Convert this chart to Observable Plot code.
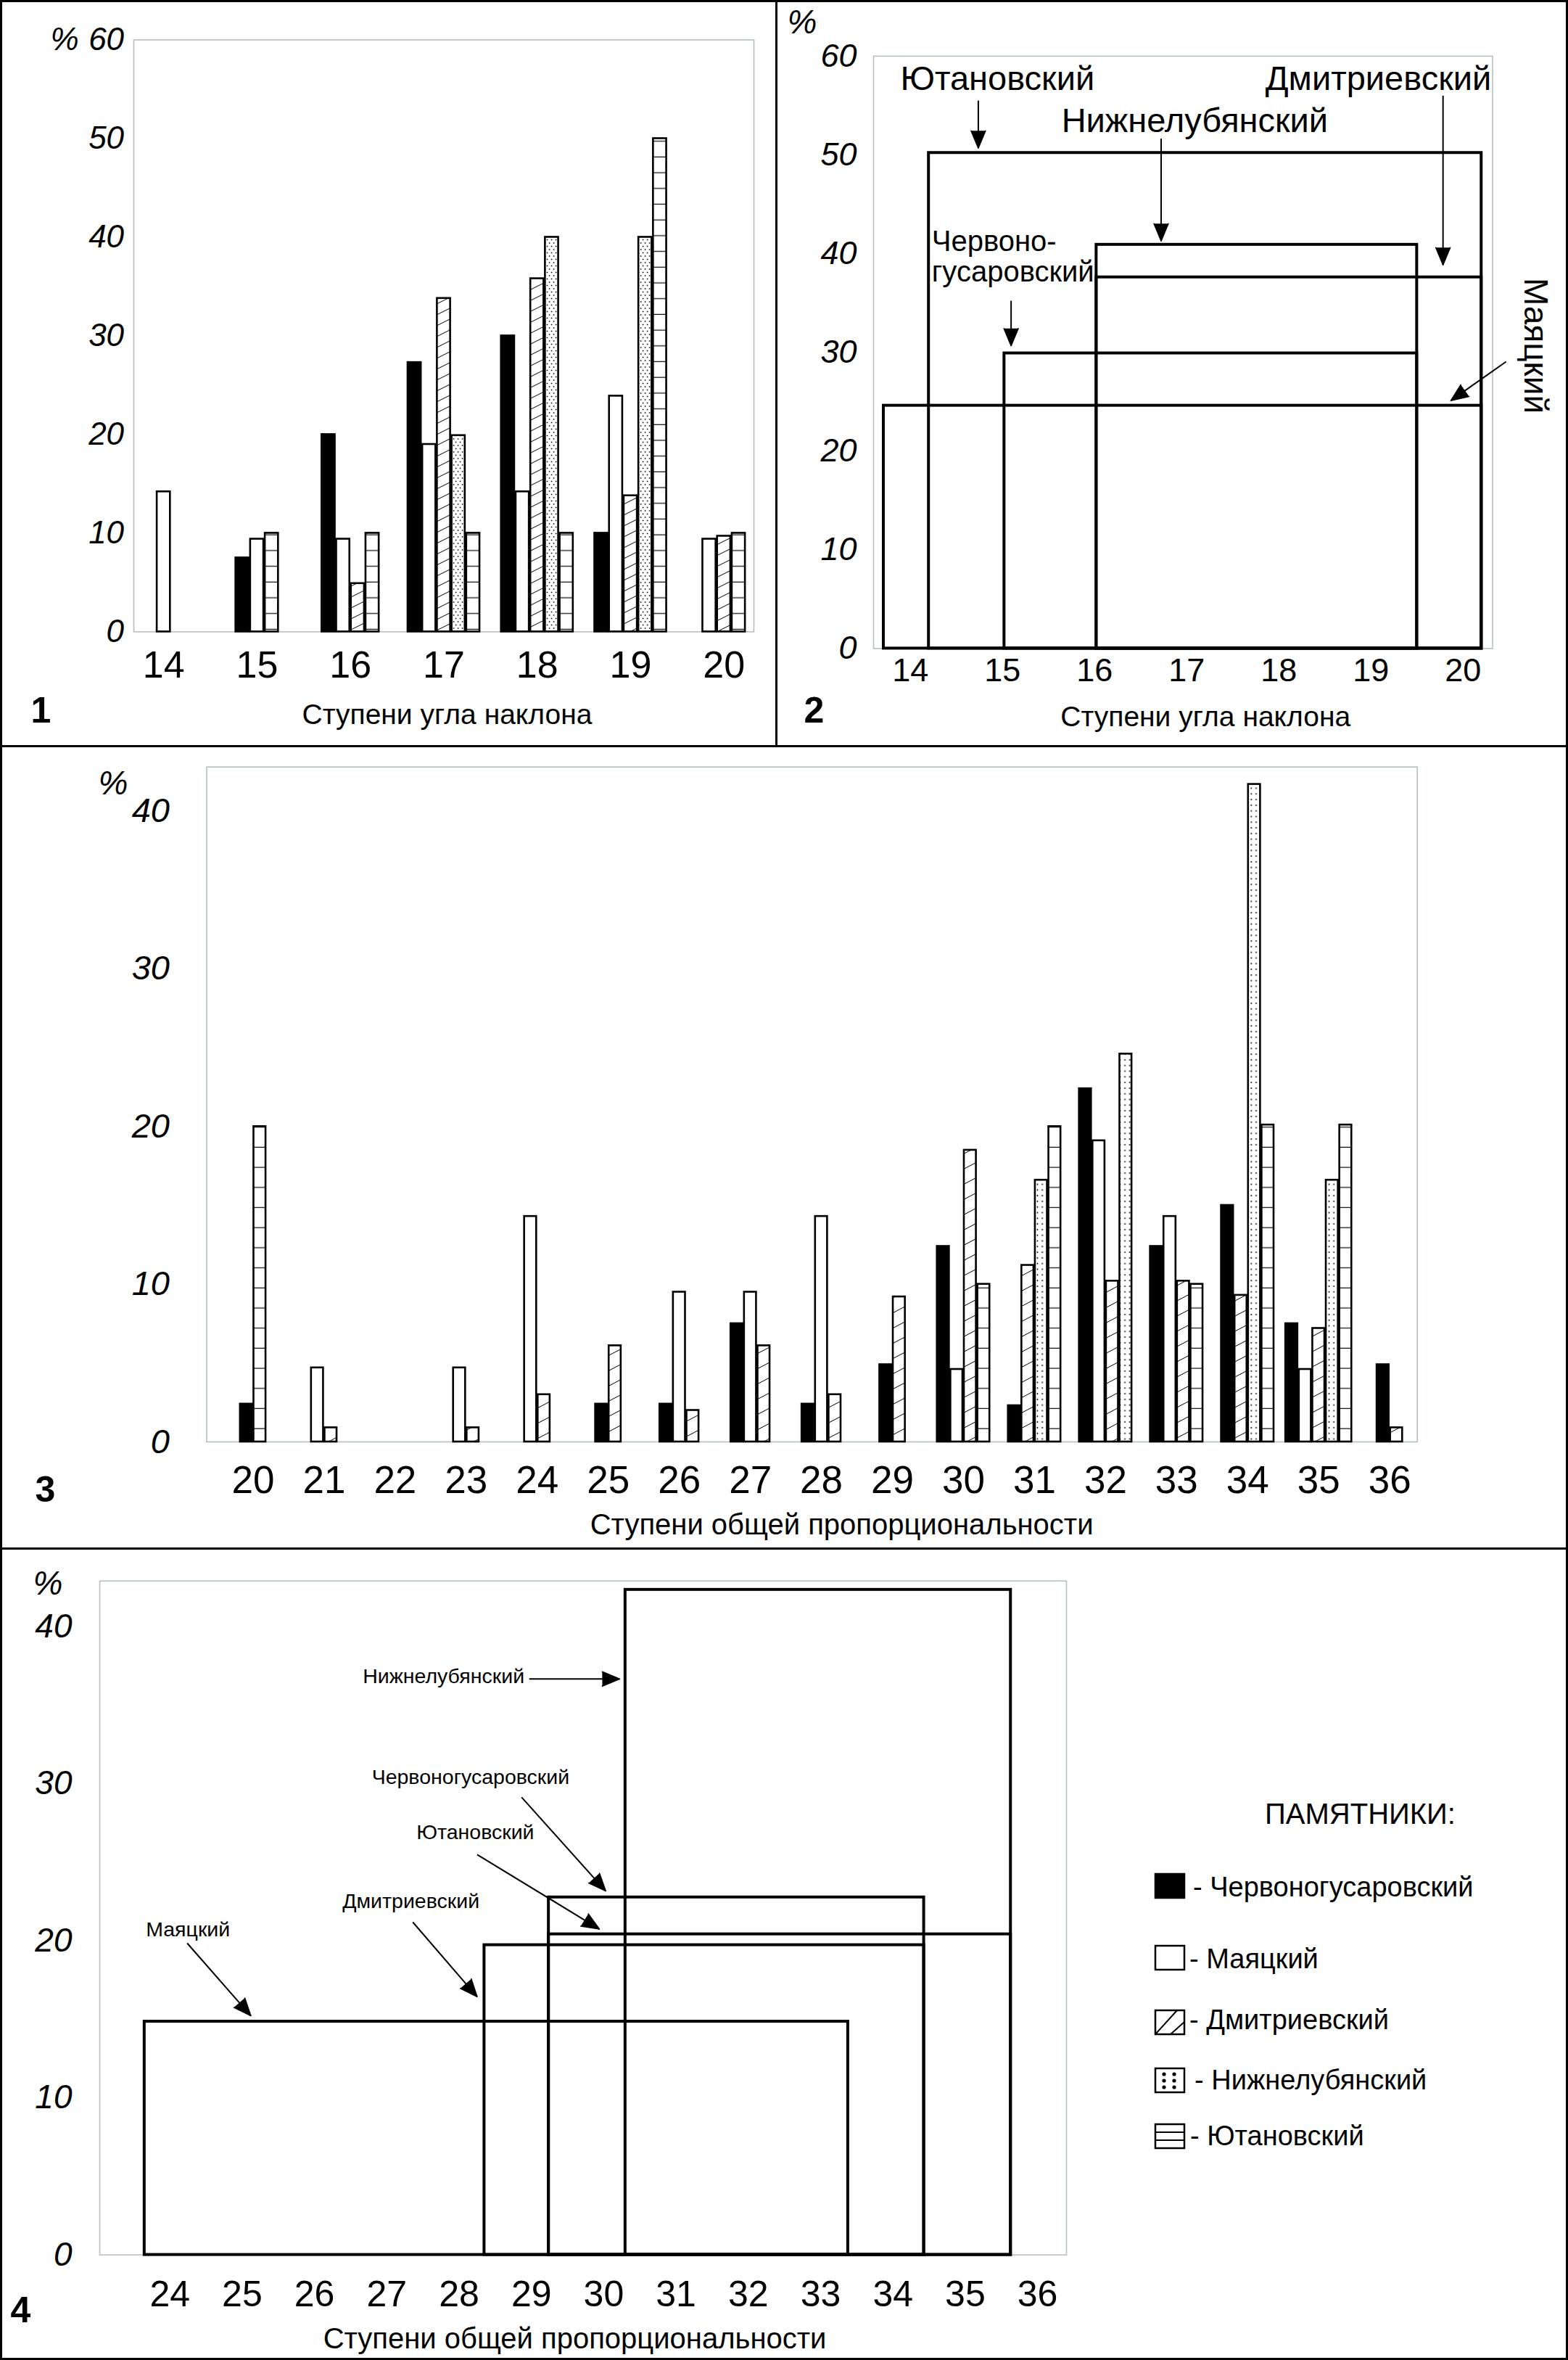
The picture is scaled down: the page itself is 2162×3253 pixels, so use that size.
<!DOCTYPE html>
<html>
<head>
<meta charset="utf-8">
<script src="https://cdn.jsdelivr.net/npm/d3@7"></script>
<script src="https://cdn.jsdelivr.net/npm/@observablehq/plot@0.6"></script>
<style>
html, body { margin: 0; padding: 0; background: #fff; }
#fig { position: relative; width: 2162px; height: 3253px; background: #fff; overflow: hidden; font-family: "Liberation Sans", Arial, sans-serif; }
.panel { position: absolute; }
.rule { position: absolute; background: #000; }
g[aria-label="y-axis tick label"] text { font-style: italic; }
</style>
</head>
<body>
<svg width="0" height="0" style="position:absolute">
  <defs>
    <pattern id="hatch1" patternUnits="userSpaceOnUse" width="30" height="15">
      <rect width="30" height="15" fill="#fff"/>
      <path d="M0,15L30,0M-7.5,3.75L7.5,-3.75M22.5,18.75L37.5,11.25" stroke="#000" stroke-width="1"/>
    </pattern>
    <pattern id="hatch3" patternUnits="userSpaceOnUse" width="40" height="21">
      <rect width="40" height="21" fill="#fff"/>
      <path d="M0,21L40,0M-10,5.25L10,-5.25M30,26.25L50,15.75" stroke="#000" stroke-width="1"/>
    </pattern>
    <pattern id="dots1" patternUnits="userSpaceOnUse" width="6" height="9">
      <rect width="6" height="9" fill="#fff"/>
      <path d="M0.7,2h1.8M1.6,1.1v1.8M3.7,6.5h1.8M4.6,5.6v1.8" stroke="#000" stroke-width="0.8"/>
    </pattern>
    <pattern id="dots3" patternUnits="userSpaceOnUse" width="6.7" height="7.8">
      <rect width="6.7" height="7.8" fill="#fff"/>
      <path d="M2.3,3.9h2.1M3.35,2.85v2.1" stroke="#000" stroke-width="0.9"/>
    </pattern>
    <pattern id="hlines1" patternUnits="userSpaceOnUse" width="10" height="21.7">
      <rect width="10" height="21.7" fill="#fff"/>
      <path d="M0,21.1H10" stroke="#111" stroke-width="1.3"/>
    </pattern>
    <pattern id="hlines3" patternUnits="userSpaceOnUse" width="10" height="27.7">
      <rect width="10" height="27.7" fill="#fff"/>
      <path d="M0,27.1H10" stroke="#111" stroke-width="1.3"/>
    </pattern>
  </defs>
</svg>
<div id="fig"></div>
<script>
// ---------------- DATA ----------------
const seriesNames = ["Червоногусаровский", "Маяцкий", "Дмитриевский", "Нижнелубянский", "Ютановский"];

// Panel 1: ступени угла наклона (% per monument)
const slopeSteps = [14, 15, 16, 17, 18, 19, 20];
const slopeChervono = [0, 7.5, 20, 27.3, 30, 10, 0];
const slopeMayatsky = [14.2, 9.4, 9.4, 19, 14.2, 23.9, 9.4];
const slopeDmitr = [0, 0, 4.9, 33.8, 35.8, 13.8, 9.7];
const slopeNizhne = [0, 0, 0, 19.9, 40, 40, 0];
const slopeYutan = [0, 10, 10, 10, 10, 50, 10];
const slopeTicksY = [0, 10, 20, 30, 40, 50, 60];

// Panel 2: ranges of slope steps per monument
const slopeRangeNames = ["Маяцкий", "Ютановский", "Червоногусаровский", "Нижнелубянский", "Дмитриевский"];
const slopeRangeFrom = [13.71, 14.2, 15.02, 16.02, 16.02];
const slopeRangeTo = [20.2, 20.2, 19.5, 19.5, 20.2];
const slopeRangeMax = [24.6, 50.2, 29.9, 40.9, 37.6];

// Panel 3: ступени общей пропорциональности
const propSteps = [20, 21, 22, 23, 24, 25, 26, 27, 28, 29, 30, 31, 32, 33, 34, 35, 36];
const propChervono = [2.4, 0, 0, 0, 0, 2.4, 2.4, 7.5, 2.4, 4.9, 12.4, 2.3, 22.4, 12.4, 15.0, 7.5, 4.9];
const propMayatsky = [0, 4.7, 0, 4.7, 14.3, 0, 9.5, 9.5, 14.3, 0, 4.6, 0, 19.1, 14.3, 0, 4.6, 0];
const propDmitr = [0, 0.9, 0, 0.9, 3.0, 6.1, 2.0, 6.1, 3.0, 9.2, 18.5, 11.2, 10.2, 10.2, 9.3, 7.2, 0.9];
const propNizhne = [0, 0, 0, 0, 0, 0, 0, 0, 0, 0, 0, 16.6, 24.6, 0, 41.7, 16.6, 0];
const propYutan = [20, 0, 0, 0, 0, 0, 0, 0, 0, 0, 10.0, 20, 0, 10.0, 20.1, 20.1, 0];
const propTicksY = [0, 10, 20, 30, 40];

// Panel 4: ranges of proportion steps per monument
const propRangeNames = ["Маяцкий", "Дмитриевский", "Червоногусаровский", "Ютановский", "Нижнелубянский"];
const propRangeFrom = [23.65, 28.35, 29.24, 29.24, 30.3];
const propRangeTo = [33.38, 34.43, 34.43, 35.63, 35.63];
const propRangeMax = [14.85, 19.72, 22.76, 20.41, 42.34];
const propStepsAxis = [24, 25, 26, 27, 28, 29, 30, 31, 32, 33, 34, 35, 36];

// Annotations panel 2 (data coordinates)
const slopeLabelText = ["Ютановский", "Нижнелубянский", "Дмитриевский"];
const slopeLabelX = [14.945, 17.087, 19.08];
const slopeLabelY = [56.6, 52.3, 56.57];
const slopeChervLines = ["Червоно-", "гусаровский"];
const slopeChervX = [14.232, 14.232];
const slopeChervY = [40.29, 37.16];
const slopeMayaLabel = {text: "Маяцкий", x: 20.78, y: 30.67};
const slopeArrowX1 = [14.737, 16.722, 19.782, 15.093, 20.467];
const slopeArrowY1 = [55.5, 51.65, 56.0, 35.23, 29.06];
const slopeArrowX2 = [14.737, 16.722, 19.782, 15.093, 19.866];
const slopeArrowY2 = [50.68, 41.27, 38.85, 30.66, 25.1];
const slopeArrowAngle = [180, 180, 180, 180, 234.7];

// Annotations panel 4
const propLabelText = ["Нижнелубянский", "Червоногусаровский", "Ютановский", "Дмитриевский", "Маяцкий"];
const propLabelX = [26.668, 26.793, 27.41, 26.387, 23.669];
const propLabelY = [36.38, 29.96, 26.47, 22.06, 20.28];
const propArrowX1 = [28.97, 28.865, 28.25, 27.36, 24.24];
const propArrowY1 = [36.66, 29.13, 25.48, 21.18, 19.84];
const propArrowX2 = [30.22, 30.028, 29.94, 28.25, 25.12];
const propArrowY2 = [36.66, 23.16, 20.74, 16.43, 15.22];
const propArrowAngle = [90, 138, 121.4, 139.2, 138.7];

// ---------------- HELPERS ----------------
const FONT = '"Liberation Sans", Arial, Helvetica, sans-serif';
const GRAY = "#b3bcbc";
const STYLE = {fontFamily: FONT, background: "transparent", overflow: "visible", color: "#000"};

function groupedBars(steps, valuesBySeries, pitch) {
  const rows = [];
  steps.forEach((step, ci) => {
    const present = seriesNames
      .map((s, si) => ({s, v: valuesBySeries[si][ci]}))
      .filter(d => d.v > 0);
    present.forEach((d, i) => {
      const x1 = step + (i - present.length / 2) * pitch;
      rows.push({step, series: d.s, value: d.v, x1, x2: x1 + pitch});
    });
  });
  return rows;
}
function barMarks(rows, fills, sw) {
  return seriesNames.map((s, si) => Plot.rect(rows.filter(r => r.series === s), {
    x1: "x1", x2: "x2", y1: () => 0, y2: "value",
    fill: fills[si], stroke: "#000", strokeWidth: sw, insetLeft: 1, insetRight: 1
  }));
}
function zipRanges(names, from, to, max) {
  return names.map((n, i) => ({name: n, from: from[i], to: to[i], max: max[i]}));
}
function zipArrows(x1, y1, x2, y2, a) {
  return x1.map((_, i) => ({x1: x1[i], y1: y1[i], x2: x2[i], y2: y2[i], angle: a[i]}));
}
function place(node, left, top) {
  node.classList.add("panel");
  node.style.left = left + "px";
  node.style.top = top + "px";
  document.getElementById("fig").appendChild(node);
}
const txt = d => d;

// ---------------- PANEL 1 ----------------
const bars1 = groupedBars(slopeSteps, [slopeChervono, slopeMayatsky, slopeDmitr, slopeNizhne, slopeYutan], 0.157);
const p1 = Plot.plot({
  width: 1070, height: 1028,
  marginLeft: 184, marginRight: 31, marginTop: 54.5, marginBottom: 157.6,
  style: STYLE,
  x: {domain: [13.68, 20.32]},
  y: {domain: [0, 60]},
  marks: [
    Plot.frame({stroke: GRAY, strokeWidth: 1.5}),
    ...barMarks(bars1, ["#000", "#fff", "url(#hatch1)", "url(#dots1)", "url(#hlines1)"], 2.6),
    Plot.axisX({ticks: slopeSteps, tickFormat: d => String(d), tickSize: 0, tickPadding: 25.7, fontSize: 52, label: null}),
    Plot.axisY({ticks: slopeTicksY, tickFormat: d => String(d), tickSize: 0, tickPadding: 13.4, fontSize: 44, fontStyle: "italic", label: null}),
    Plot.text(["%"], {y: () => 60, frameAnchor: "left", dx: -76, textAnchor: "end", fontSize: 44, fontStyle: "italic", text: txt}),
    Plot.text(["Ступени угла наклона"], {frameAnchor: "bottom", dx: 4.5, dy: 126.6, lineAnchor: "bottom", fontSize: 39, text: txt}),
    Plot.text(["1"], {frameAnchor: "bottom-left", dx: -142, dy: 124.6, textAnchor: "start", lineAnchor: "bottom", fontSize: 50, fontWeight: "bold", text: txt})
  ]
});
place(p1, 0, 0);

// ---------------- PANEL 2 ----------------
const ranges2 = zipRanges(slopeRangeNames, slopeRangeFrom, slopeRangeTo, slopeRangeMax);
const arrows2 = zipArrows(slopeArrowX1, slopeArrowY1, slopeArrowX2, slopeArrowY2, slopeArrowAngle);
const p2 = Plot.plot({
  width: 1092, height: 1028,
  marginLeft: 134, marginRight: 104.5, marginTop: 76.9, marginBottom: 134.6,
  style: STYLE,
  x: {domain: [13.6, 20.32]},
  y: {domain: [0, 60]},
  marks: [
    Plot.frame({stroke: GRAY, strokeWidth: 1.5}),
    Plot.rect(ranges2, {x1: "from", x2: "to", y1: () => 0, y2: "max", fill: "none", stroke: "#000", strokeWidth: 4}),
    Plot.link(arrows2, {x1: "x1", y1: "y1", x2: "x2", y2: "y2", stroke: "#000", strokeWidth: 2}),
    Plot.vector(arrows2, {x: "x2", y: "y2", rotate: "angle", length: 24, r: 10, shape: "spike", anchor: "end", fill: "#000", stroke: "#000"}),
    Plot.text(slopeLabelText, {x: (d, i) => slopeLabelX[i], y: (d, i) => slopeLabelY[i], text: txt, textAnchor: "middle", lineAnchor: "bottom", fontSize: 47}),
    Plot.text(slopeChervLines, {x: (d, i) => slopeChervX[i], y: (d, i) => slopeChervY[i], text: txt, textAnchor: "start", lineAnchor: "bottom", fontSize: 40}),
    Plot.text([slopeMayaLabel], {x: "x", y: "y", text: "text", rotate: 90, textAnchor: "middle", lineAnchor: "middle", fontSize: 46}),
    Plot.axisX({ticks: slopeSteps, tickFormat: d => String(d), tickSize: 0, tickPadding: 13.6, fontSize: 45, label: null}),
    Plot.axisY({ticks: slopeTicksY, tickFormat: d => String(d), tickSize: 0, tickPadding: 23, fontSize: 45, fontStyle: "italic", label: null}),
    Plot.text(["%"], {frameAnchor: "top-left", dx: -78, dy: -45.9, textAnchor: "end", lineAnchor: "middle", fontSize: 46, fontStyle: "italic", text: txt}),
    Plot.text(["Ступени угла наклона"], {frameAnchor: "bottom", dx: 31, dy: 106.6, lineAnchor: "bottom", fontSize: 39, text: txt}),
    Plot.text(["2"], {frameAnchor: "bottom-left", dx: -96, dy: 101.6, textAnchor: "start", lineAnchor: "bottom", fontSize: 50, fontWeight: "bold", text: txt})
  ]
});
place(p2, 1070, 0);

// ---------------- PANEL 3 ----------------
const bars3 = groupedBars(propSteps, [propChervono, propMayatsky, propDmitr, propNizhne, propYutan], 0.19);
const p3 = Plot.plot({
  width: 2162, height: 1106,
  marginLeft: 284.5, marginRight: 208.3, marginTop: 28.7, marginBottom: 147,
  style: STYLE,
  x: {domain: [19.347, 36.388]},
  y: {domain: [0, 42.8]},
  marks: [
    Plot.frame({stroke: GRAY, strokeWidth: 1.5}),
    ...barMarks(bars3, ["#000", "#fff", "url(#hatch3)", "url(#dots3)", "url(#hlines3)"], 2.6),
    Plot.axisX({ticks: propSteps, tickFormat: d => String(d), tickSize: 0, tickPadding: 33, fontSize: 53, label: null}),
    Plot.axisY({ticks: propTicksY, tickFormat: d => String(d), tickSize: 0, tickPadding: 51, fontSize: 47, fontStyle: "italic", label: null}),
    Plot.text(["%"], {y: () => 40, frameAnchor: "left", dx: -108.5, dy: -38, textAnchor: "end", fontSize: 46, fontStyle: "italic", text: txt}),
    Plot.text(["Ступени общей пропорциональности"], {frameAnchor: "bottom", dx: 41, dy: 127, lineAnchor: "bottom", fontSize: 40, text: txt}),
    Plot.text(["3"], {frameAnchor: "bottom-left", dx: -236.5, dy: 82.6, textAnchor: "start", lineAnchor: "bottom", fontSize: 50, fontWeight: "bold", text: txt})
  ]
});
place(p3, 0, 1028);

// ---------------- PANEL 4 ----------------
const ranges4 = zipRanges(propRangeNames, propRangeFrom, propRangeTo, propRangeMax);
const arrows4 = zipArrows(propArrowX1, propArrowY1, propArrowX2, propArrowY2, propArrowAngle);
const p4 = Plot.plot({
  width: 1480, height: 1119,
  marginLeft: 137, marginRight: 10, marginTop: 44.7, marginBottom: 145.4,
  style: STYLE,
  x: {domain: [23.03, 36.4]},
  y: {domain: [0, 42.9]},
  marks: [
    Plot.frame({stroke: GRAY, strokeWidth: 1.5}),
    Plot.rect(ranges4, {x1: "from", x2: "to", y1: () => 0, y2: "max", fill: "none", stroke: "#000", strokeWidth: 4}),
    Plot.link(arrows4, {x1: "x1", y1: "y1", x2: "x2", y2: "y2", stroke: "#000", strokeWidth: 2}),
    Plot.vector(arrows4, {x: "x2", y: "y2", rotate: "angle", length: 24, r: 10, shape: "spike", anchor: "end", fill: "#000", stroke: "#000"}),
    Plot.text(propLabelText, {x: (d, i) => propLabelX[i], y: (d, i) => propLabelY[i], text: txt, textAnchor: "start", lineAnchor: "bottom", fontSize: 28.5}),
    Plot.axisX({ticks: propStepsAxis, tickFormat: d => String(d), tickSize: 0, tickPadding: 35.5, fontSize: 50, label: null}),
    Plot.axisY({ticks: propTicksY, tickFormat: d => String(d), tickSize: 0, tickPadding: 38, fontSize: 46, fontStyle: "italic", label: null}),
    Plot.text(["%"], {frameAnchor: "top-left", dx: -92, dy: 4.3, textAnchor: "start", lineAnchor: "middle", fontSize: 46, fontStyle: "italic", text: txt}),
    Plot.text(["Ступени общей пропорциональности"], {frameAnchor: "bottom", dx: -11.5, dy: 129, lineAnchor: "bottom", fontSize: 40, text: txt}),
    Plot.text(["4"], {frameAnchor: "bottom-left", dx: -123, dy: 93, textAnchor: "start", lineAnchor: "bottom", fontSize: 50, fontWeight: "bold", text: txt})
  ]
});
place(p4, 0, 2134);

// ---------------- LEGEND ----------------
const legendTitle = "ПАМЯТНИКИ:";
const legendBoxY = [183, 282, 371, 451, 528];
const legendTextX = [165, 160, 160, 167, 161];
const legendBaseline = [214, 312.6, 397, 480, 557];
function swatch(i, y) {
  const x = 113, w = 40, h = 33;
  let inner = "";
  if (i === 2) inner = `<path d="M${x},${y + h}L${x + 30},${y}M${x + 21},${y + h}L${x + w},${y + 16}" stroke="#000" stroke-width="2"/>`;
  if (i === 3) inner = [12, 26].map(cx => [8, 17, 26].map(cy => `<circle cx="${x + cx}" cy="${y + cy}" r="2.6" fill="#000"/>`).join("")).join("");
  if (i === 4) inner = `<path d="M${x},${y + 11}H${x + w}M${x},${y + 22}H${x + w}" stroke="#000" stroke-width="2"/>`;
  const fill = i === 0 ? "#000" : "#fff";
  return `<rect x="${x}" y="${y}" width="${w}" height="${h}" fill="${fill}" stroke="#000" stroke-width="2.5"/>` + inner;
}
let legendSvg = `<svg xmlns="http://www.w3.org/2000/svg" width="682" height="600" style="font-family:${FONT.replace(/"/g, "'")}">`;
legendSvg += `<text x="395.5" y="114" text-anchor="middle" font-size="40">${legendTitle}</text>`;
seriesNames.forEach((s, i) => {
  legendSvg += swatch(i, legendBoxY[i]);
  legendSvg += `<text x="${legendTextX[i]}" y="${legendBaseline[i]}" font-size="38">- ${s}</text>`;
});
legendSvg += `</svg>`;
const legendDiv = document.createElement("div");
legendDiv.innerHTML = legendSvg;
place(legendDiv, 1480, 2400);

// ---------------- PANEL RULES ----------------
function rule(l, t, w, h) {
  const d = document.createElement("div");
  d.className = "rule";
  Object.assign(d.style, {left: l + "px", top: t + "px", width: w + "px", height: h + "px"});
  document.getElementById("fig").appendChild(d);
}
rule(0, 0, 2162, 3);
rule(0, 3250, 2162, 3);
rule(0, 0, 3, 3253);
rule(2159, 0, 3, 3253);
rule(1069, 0, 3, 1029);
rule(0, 1027, 2162, 3);
rule(0, 2133, 2162, 3);
</script>
</body>
</html>
